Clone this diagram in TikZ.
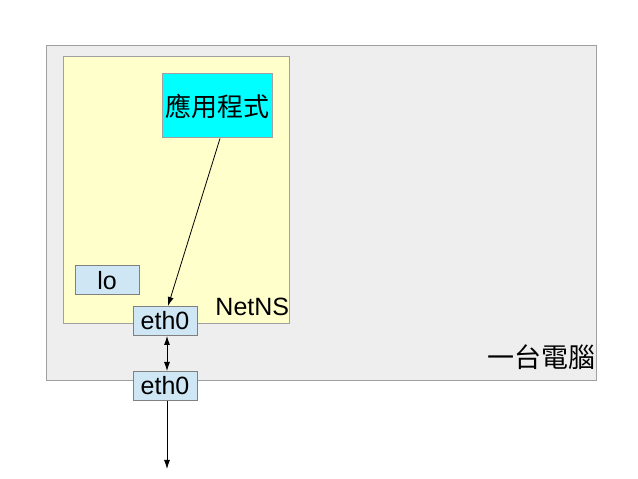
\documentclass[tikz,border=0pt]{standalone}
\usepackage{fontspec}
\setmainfont{Liberation Sans}
\newfontfamily\cjkfont{Noto Sans CJK TC}
\usetikzlibrary{arrows.meta,positioning}
\definecolor{hostgray}{HTML}{EEEEEE}
\definecolor{nsyellow}{HTML}{FFFFCC}
\definecolor{ifblue}{HTML}{CFE7F5}
\definecolor{appcyan}{HTML}{00FFFF}
\definecolor{edgegray}{HTML}{A0A0A0}
\tikzset{
  >={Latex[length=9pt,width=6pt]},
  host/.style={
    draw=edgegray, fill=hostgray, rectangle, line width=1pt,
    minimum width=550pt, minimum height=335pt
  },
  netns/.style={
    draw=edgegray, fill=nsyellow, rectangle, line width=1pt,
    minimum width=226pt, minimum height=267pt
  },
  app/.style={
    draw=edgegray, fill=appcyan, rectangle, inner sep=0pt, line width=1pt,
    font=\cjkfont\fontsize{26}{30}\selectfont,
    minimum width=110pt, minimum height=64pt
  },
  iface/.style={
    draw=gray, fill=ifblue, rectangle, inner sep=0pt, line width=1pt,
    font=\fontsize{25}{28}\selectfont,
    minimum width=64pt, minimum height=29pt
  },
  tag/.style={inner sep=0pt},
}
\begin{document}
\begin{tikzpicture}[node distance=35pt, line width=0.8pt]
  \useasboundingbox (0,0) rectangle (638pt,479pt);
  \node[host] (pc) at (321pt,265.5pt) {};
  \node[netns] (ns) at (176pt,288.5pt) {};
  \node[app] (app) at (217pt,373pt) {應用程式};
  \node[iface] (lo) at (107pt,198.5pt) {lo};
  \node[iface] (eth0in) at (165pt,158pt) {eth0};
  \node[iface, below=of eth0in] (eth0out) {eth0};
  \node[tag, anchor=base east, font=\fontsize{25}{28}\selectfont] (nslabel)
    at ([yshift=9pt]ns.south east) {NetNS};
  \node[tag, anchor=base east, font=\cjkfont\fontsize{27}{30}\selectfont] (pclabel)
    at ([xshift=-1pt,yshift=14pt]pc.south east) {一台電腦};
  \coordinate (wire) at ([xshift=2pt,yshift=-68pt]eth0out.south);
  \draw[->] ([xshift=3pt]app.south) -- ([xshift=3pt]eth0in.north);
  \draw[<->] ([xshift=2pt]eth0in.south) -- ([xshift=2pt]eth0out.north);
  \draw[->] ([xshift=2pt]eth0out.south) -- (wire);
\end{tikzpicture}
\end{document}
